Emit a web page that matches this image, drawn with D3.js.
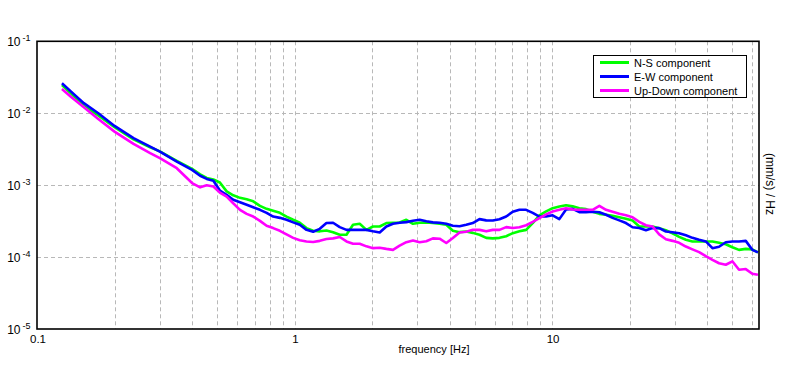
<!DOCTYPE html>
<html>
<head>
<meta charset="utf-8">
<script src="https://cdn.jsdelivr.net/npm/d3@7"></script>
<style>
  body { margin: 0; background: #fff; }
  svg { display: block; }
</style>
</head>
<body>
<div id="chart"></div>
<script>
// frequency axis [Hz]
const freq = [0.125, 0.135, 0.152, 0.173, 0.2, 0.237, 0.275, 0.3, 0.349, 0.4,
  0.43, 0.456, 0.484, 0.513, 0.545, 0.578, 0.614, 0.652, 0.691, 0.734,
  0.779, 0.826, 0.877, 0.931, 0.988, 1.048, 1.113, 1.181, 1.253, 1.33,
  1.411, 1.498, 1.591, 1.687, 1.791, 1.902, 2.017, 2.141, 2.273, 2.411,
  2.559, 2.717, 2.883, 3.06, 3.248, 3.445, 3.658, 3.883, 4.119, 4.373,
  4.642, 4.923, 5.226, 5.549, 5.887, 6.248, 6.633, 7.036, 7.47, 7.93,
  8.41, 8.93, 9.48, 10.05, 10.67, 11.33, 12.02, 12.76, 13.55, 14.37,
  15.26, 16.2, 17.18, 18.24, 19.36, 20.54, 21.8, 23.14, 24.55, 26.06,
  27.67, 29.35, 31.15, 33.07, 35.08, 37.24, 39.54, 41.94, 44.5, 47.25,
  50.12, 53.2, 56.5, 59.9, 63]

const nsComponent = [2.47e-2, 1.91e-2, 1.26e-2, 9.32e-3, 6.39e-3, 4.33e-3, 3.37e-3, 2.95e-3, 2.18e-3, 1.68e-3,
  1.41e-3, 1.26e-3, 1.2e-3, 1.09e-3, 8.2e-4, 7.22e-4, 6.66e-4, 6.35e-4, 5.96e-4, 5.16e-4,
  4.68e-4, 4.4e-4, 4.12e-4, 3.66e-4, 3.3e-4, 3.0e-4, 2.53e-4, 2.32e-4, 2.28e-4, 2.34e-4,
  2.21e-4, 2.04e-4, 2.04e-4, 2.81e-4, 2.9e-4, 2.39e-4, 2.66e-4, 2.66e-4, 2.97e-4, 3.0e-4,
  3.02e-4, 3.3e-4, 2.9e-4, 3.0e-4, 3.02e-4, 2.97e-4, 2.9e-4, 2.81e-4, 2.32e-4, 2.22e-4,
  2.27e-4, 2.17e-4, 2.04e-4, 1.85e-4, 1.82e-4, 1.85e-4, 1.95e-4, 2.15e-4, 2.28e-4, 2.39e-4,
  2.97e-4, 3.81e-4, 4.33e-4, 4.79e-4, 5.04e-4, 5.24e-4, 5.07e-4, 4.77e-4, 4.64e-4, 4.26e-4,
  3.99e-4, 3.88e-4, 3.75e-4, 3.59e-4, 3.4e-4, 3.22e-4, 2.66e-4, 2.66e-4, 2.66e-4, 2.51e-4,
  2.36e-4, 2.14e-4, 1.91e-4, 1.74e-4, 1.65e-4, 1.65e-4, 1.65e-4, 1.65e-4, 1.58e-4, 1.51e-4,
  1.37e-4, 1.26e-4, 1.3e-4, 1.28e-4, 1.16e-4]

const ewComponent = [2.61e-2, 2.03e-2, 1.38e-2, 1.0e-2, 6.66e-3, 4.5e-3, 3.44e-3, 2.93e-3, 2.13e-3, 1.63e-3,
  1.35e-3, 1.22e-3, 1.15e-3, 8.41e-4, 7.33e-4, 6.25e-4, 5.77e-4, 5.33e-4, 4.92e-4, 4.54e-4,
  4.12e-4, 3.66e-4, 3.51e-4, 3.3e-4, 3.04e-4, 2.81e-4, 2.39e-4, 2.25e-4, 2.47e-4, 2.97e-4,
  3.0e-4, 2.61e-4, 2.39e-4, 2.39e-4, 2.39e-4, 2.39e-4, 2.28e-4, 2.2e-4, 2.66e-4, 2.9e-4,
  3.0e-4, 3.06e-4, 3.19e-4, 3.3e-4, 3.14e-4, 3.04e-4, 3.0e-4, 2.9e-4, 2.72e-4, 2.68e-4,
  2.81e-4, 2.97e-4, 3.37e-4, 3.24e-4, 3.22e-4, 3.35e-4, 3.66e-4, 4.26e-4, 4.54e-4, 4.54e-4,
  4.12e-4, 3.66e-4, 3.68e-4, 3.81e-4, 3.37e-4, 4.6e-4, 4.68e-4, 4.22e-4, 4.22e-4, 4.26e-4,
  4.19e-4, 3.88e-4, 3.51e-4, 3.24e-4, 2.97e-4, 2.6e-4, 2.53e-4, 2.36e-4, 2.53e-4, 2.53e-4,
  2.27e-4, 2.21e-4, 2.14e-4, 2.01e-4, 1.85e-4, 1.74e-4, 1.65e-4, 1.33e-4, 1.39e-4, 1.61e-4,
  1.65e-4, 1.65e-4, 1.68e-4, 1.26e-4, 1.16e-4]

const udComponent = [2.17e-2, 1.71e-2, 1.21e-2, 8.33e-3, 5.55e-3, 3.75e-3, 2.78e-3, 2.37e-3, 1.72e-3, 1.07e-3,
  9.32e-4, 9.94e-4, 9.56e-4, 7.88e-4, 6.94e-4, 5.6e-4, 4.54e-4, 3.99e-4, 3.66e-4, 3.19e-4,
  2.72e-4, 2.53e-4, 2.32e-4, 2.07e-4, 1.85e-4, 1.71e-4, 1.65e-4, 1.62e-4, 1.68e-4, 1.78e-4,
  1.82e-4, 1.9e-4, 1.65e-4, 1.53e-4, 1.53e-4, 1.41e-4, 1.33e-4, 1.35e-4, 1.3e-4, 1.26e-4,
  1.44e-4, 1.61e-4, 1.7e-4, 1.61e-4, 1.66e-4, 1.82e-4, 1.8e-4, 1.57e-4, 1.84e-4, 2.2e-4,
  2.25e-4, 2.39e-4, 2.39e-4, 2.28e-4, 2.39e-4, 2.39e-4, 2.61e-4, 2.53e-4, 2.6e-4, 2.77e-4,
  3.09e-4, 3.48e-4, 3.93e-4, 4.3e-4, 4.54e-4, 4.77e-4, 4.58e-4, 4.54e-4, 4.54e-4, 4.54e-4,
  5.16e-4, 4.54e-4, 4.26e-4, 3.99e-4, 3.81e-4, 3.57e-4, 3.09e-4, 2.77e-4, 2.66e-4, 2.07e-4,
  1.77e-4, 1.68e-4, 1.58e-4, 1.4e-4, 1.28e-4, 1.17e-4, 1.03e-4, 9.15e-5, 8.2e-5, 7.82e-5,
  8.74e-5, 6.66e-5, 6.81e-5, 5.86e-5, 5.68e-5]

const seriesNames = ["N-S component", "E-W component", "Up-Down component"]
const seriesColors = ["#00ff00", "#0000ff", "#ff00ff"]
const seriesValues = [nsComponent, ewComponent, udComponent]

const xTickLabels = [0.1, 1, 10]
const xGridValues = [0.2, 0.3, 0.4, 0.5, 0.6, 0.7, 0.8, 0.9, 1, 2, 3, 4, 5, 6, 7, 8, 9, 10, 20, 30, 40, 50, 60]
const yTickExponents = [-1, -2, -3, -4, -5]

const w = 796
const h = 370
const font = "Arial, 'Liberation Sans', sans-serif"
const plotLeft = 37, plotRight = 759, plotTop = 41.3, plotBottom = 329

const svg = d3.select("#chart").append("svg")
  .attr("width", w)
  .attr("height", h)

const xScale = d3.scaleLog().domain([0.1, 63.6]).range([plotLeft, plotRight])
const yScale = d3.scaleLog().domain([1e-5, 1e-1]).range([plotBottom, plotTop])

svg.append("defs").append("clipPath").attr("id", "plotClip")
  .append("rect")
  .attr("x", plotLeft).attr("y", plotTop)
  .attr("width", plotRight - plotLeft).attr("height", plotBottom - plotTop)

// grid
const grid = svg.append("g").attr("class", "grid")
  .attr("stroke", "#b8b8b8")
  .attr("stroke-dasharray", "4,3")
  .attr("stroke-width", 1)

grid.selectAll("line.v")
  .data(xGridValues)
  .join("line")
  .attr("class", "v")
  .attr("x1", d => Math.round(xScale(d)) + 0.5)
  .attr("x2", d => Math.round(xScale(d)) + 0.5)
  .attr("y1", plotTop)
  .attr("y2", plotBottom)

grid.selectAll("line.h")
  .data(yTickExponents.slice(1, -1))
  .join("line")
  .attr("class", "h")
  .attr("x1", plotLeft)
  .attr("x2", plotRight)
  .attr("y1", d => Math.round(yScale(Math.pow(10, d))) + 0.5)
  .attr("y2", d => Math.round(yScale(Math.pow(10, d))) + 0.5)

// series
const line = d3.line()
  .x(d => xScale(d[0]))
  .y(d => yScale(d[1]))

const paths = svg.append("g").attr("class", "paths")
  .attr("clip-path", "url(#plotClip)")

seriesValues.forEach((vals, i) => {
  paths.append("path")
    .datum(freq.map((f, j) => [f, vals[j]]))
    .attr("d", line)
    .attr("fill", "none")
    .attr("stroke", seriesColors[i])
    .attr("stroke-width", 2.6)
    .attr("stroke-linejoin", "round")
})

// frame
svg.append("rect")
  .attr("x", plotLeft)
  .attr("y", plotTop)
  .attr("width", plotRight - plotLeft)
  .attr("height", plotBottom - plotTop)
  .attr("fill", "none")
  .attr("stroke", "#000")
  .attr("stroke-width", 1.6)

// y tick labels: 10 with superscript exponent
const yLabels = svg.append("g").attr("class", "yLabels")
  .style("font-family", font)
  .attr("fill", "#000")

yTickExponents.forEach(e => {
  const y = yScale(Math.pow(10, e))
  yLabels.append("text")
    .attr("x", 20.5)
    .attr("y", y + 4.5)
    .attr("text-anchor", "end")
    .style("font-size", "12px")
    .text("10")
  yLabels.append("text")
    .attr("x", 22.5)
    .attr("y", y - 0.5)
    .style("font-size", "9px")
    .text(e)
})

// x tick labels
svg.append("g").attr("class", "xLabels")
  .selectAll("text")
  .data(xTickLabels)
  .join("text")
  .attr("x", d => xScale(d) + 1)
  .attr("y", 342.5)
  .attr("text-anchor", "middle")
  .style("font-family", font)
  .style("font-size", "11.5px")
  .text(d => d)

// axis titles
svg.append("text")
  .attr("x", 434)
  .attr("y", 353)
  .attr("text-anchor", "middle")
  .style("font-family", font)
  .style("font-size", "11px")
  .text("frequency [Hz]")

svg.append("text")
  .attr("transform", "translate(766,184) rotate(90)")
  .attr("text-anchor", "middle")
  .style("font-family", font)
  .style("font-size", "12px")
  .text("(mm/s) / Hz")

// legend
const legend = svg.append("g").attr("class", "legend")
legend.append("rect")
  .attr("x", 593.5)
  .attr("y", 55.5)
  .attr("width", 153)
  .attr("height", 42)
  .attr("fill", "#fff")
  .attr("stroke", "#000")
  .attr("stroke-width", 1)

seriesNames.forEach((name, i) => {
  const ly = 62.5 + i * 14
  legend.append("line")
    .attr("x1", 600)
    .attr("x2", 629)
    .attr("y1", ly)
    .attr("y2", ly)
    .attr("stroke", seriesColors[i])
    .attr("stroke-width", 3)
  legend.append("text")
    .attr("x", 634)
    .attr("y", ly + 4)
    .style("font-family", font)
    .style("font-size", "11px")
    .text(name)
})
</script>
</body>
</html>
